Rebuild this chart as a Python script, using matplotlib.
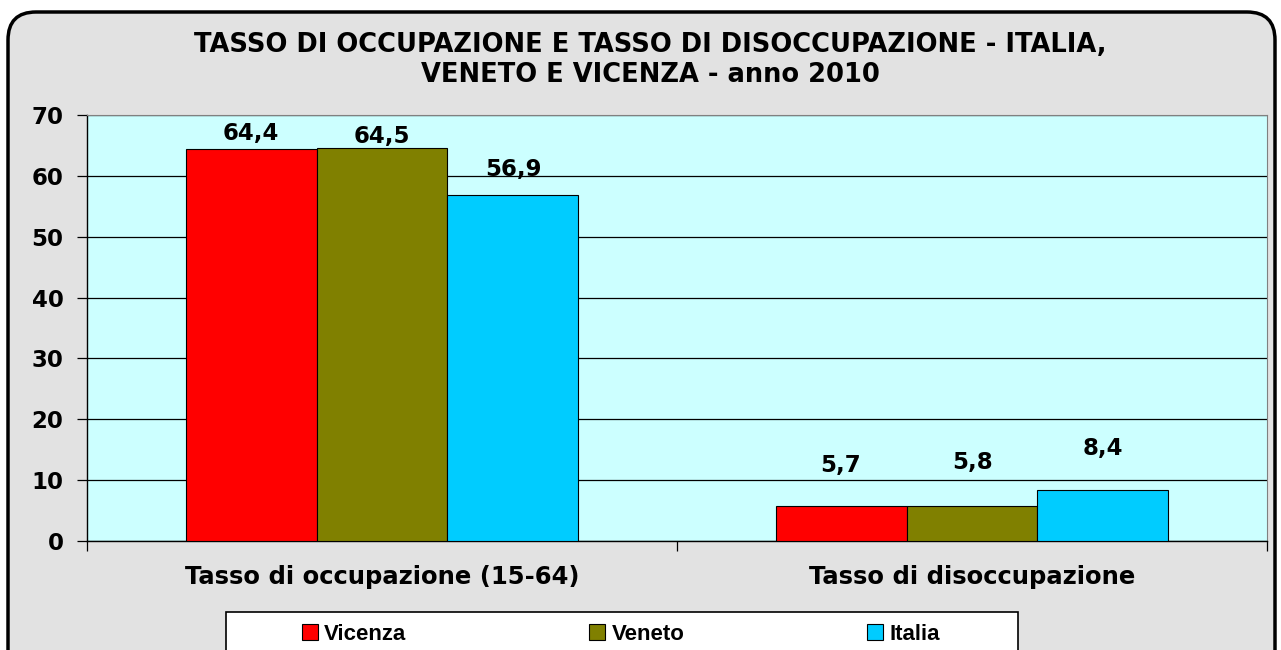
import matplotlib.pyplot as plt
import numpy as np
from matplotlib.patches import FancyBboxPatch, Rectangle

categorie = ['Tasso di occupazione (15-64)', 'Tasso di disoccupazione']
serie = ['Vicenza', 'Veneto', 'Italia']
vicenza = [64.4, 5.7]
veneto = [64.5, 5.8]
italia = [56.9, 8.4]
colori = ['#FF0000', '#808000', '#00CCFF']
# offset etichette (pixel sopra la barra)
label_dy = [[16, 41], [12, 43], [25, 41]]

plt.rcParams['font.family'] = ['DejaVu Sans']

fig = plt.figure(figsize=(12.81, 6.5), dpi=100)
fig.patch.set_facecolor('white')

# cornice arrotondata
frame = FancyBboxPatch((0.08, -0.4), 12.67, 6.78, boxstyle='round,pad=0,rounding_size=0.28',
                       transform=fig.dpi_scale_trans, facecolor='#e2e2e2',
                       edgecolor='black', linewidth=2.5, zorder=-5)
fig.patches.append(frame)

ax = fig.add_axes([87/1281, 1-541/650, 1180/1281, 426/650])
ax.set_zorder(2)
ax.set_facecolor('#CCFFFF')

x = np.arange(len(categorie))
w = 0.222
valori = [vicenza, veneto, italia]
for i, (nome, vals) in enumerate(zip(serie, valori)):
    pos = x + (i - 1) * w
    ax.bar(pos, vals, w, color=colori[i], edgecolor='black', linewidth=0.8,
           label=nome, zorder=3)
    for j, (p, v) in enumerate(zip(pos, vals)):
        ax.annotate(f'{v:.1f}'.replace('.', ','), (p, v),
                    xytext=(0, label_dy[i][j]), textcoords='offset pixels',
                    ha='center', va='center', fontsize=16.5, fontweight='bold')

ax.set_xlim(-0.5, 1.5)
ax.set_ylim(0, 70)
ax.set_yticks(range(0, 71, 10))
ax.yaxis.grid(True, color='black', linewidth=0.9, zorder=1)
ax.set_axisbelow(True)
ax.tick_params(axis='y', length=7, width=0.9, pad=10, labelsize=16.5)
for t in ax.get_yticklabels():
    t.set_fontweight('bold')

ax.set_xticks(x)
ax.set_xticklabels(categorie, fontsize=17.5, fontweight='bold')
ax.set_xticks([-0.5, 0.5, 1.5], minor=True)
ax.tick_params(axis='x', which='major', length=0, pad=17)
ax.tick_params(axis='x', which='minor', length=7, width=0.9)

for s in ['top', 'right']:
    ax.spines[s].set_color('#808080')
    ax.spines[s].set_linewidth(0.8)
for s in ['left', 'bottom']:
    ax.spines[s].set_color('black')
    ax.spines[s].set_linewidth(1.0)

fig.text(0.508, 1-45/650, 'TASSO DI OCCUPAZIONE E TASSO DI DISOCCUPAZIONE - ITALIA,',
         ha='center', va='center', fontsize=18.5, fontweight='bold')
fig.text(0.508, 1-75/650, 'VENETO E VICENZA - anno 2010',
         ha='center', va='center', fontsize=18.5, fontweight='bold')

# riquadro legenda
box = Rectangle((226/1281, -0.1), 792/1281, 0.1 + 1 - 612/650, transform=fig.transFigure,
                facecolor='white', edgecolor='black', linewidth=1.2, zorder=3)
fig.patches.append(box)
leg = fig.legend(loc='center left', bbox_to_anchor=(302/1281, 1-634/650, 638/1281, 0.0),
                 ncol=3, mode='expand', frameon=False,
                 prop={'family': 'Liberation Sans', 'weight': 'bold', 'size': 16},
                 handlelength=0.7, handleheight=0.7, handletextpad=0.3,
                 borderpad=0, borderaxespad=0)
leg.set_zorder(4)

fig.savefig('out.png', dpi=100)
